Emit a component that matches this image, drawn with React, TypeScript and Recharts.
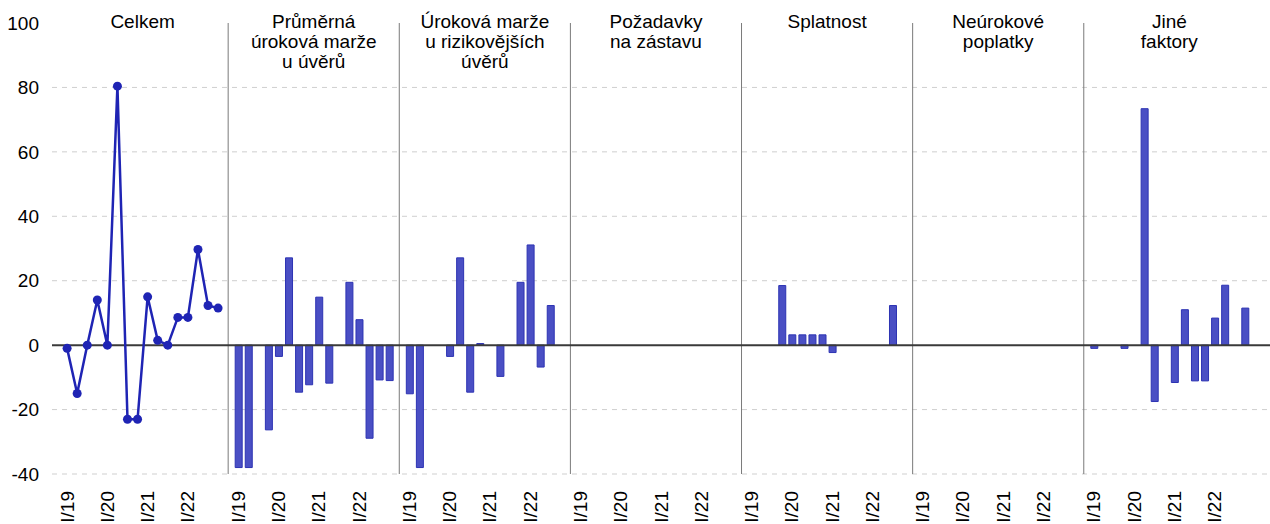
import React from "react";
import {
  ComposedChart,
  Bar,
  Line,
  XAxis,
  YAxis,
  CartesianGrid,
  ReferenceLine,
} from "recharts";

// quarters 2019Q1 - 2022Q4
const quarters = [
  "I/19", "II/19", "III/19", "IV/19",
  "I/20", "II/20", "III/20", "IV/20",
  "I/21", "II/21", "III/21", "IV/21",
  "I/22", "II/22", "III/22", "IV/22",
];
const shownQuarters = ["I/19", "I/20", "I/21", "I/22"];

const panelTitles = [
  ["Celkem"],
  ["Průměrná", "úroková marže", "u úvěrů"],
  ["Úroková marže", "u rizikovějších", "úvěrů"],
  ["Požadavky", "na zástavu"],
  ["Splatnost"],
  ["Neúrokové", "poplatky"],
  ["Jiné", "faktory"],
];

const celkem = [-1, -15, 0, 14, 0, 80.4, -23, -23, 15, 1.5, 0, 8.6, 8.6, 29.7, 12.3, 11.5];
const prumernaMarze = [-38, -38, null, -26.3, -3.5, 27.1, -14.6, -12.3, 14.9, -11.8, null, 19.5, 7.9, -28.9, -10.8, -11];
const rizikovejsiMarze = [-15.1, -38, null, null, -3.5, 27.1, -14.6, 0.5, null, -9.7, null, 19.5, 31.1, -6.8, 12.3, null];
const zastava = [null, null, null, null, null, null, null, null, null, null, null, null, null, null, null, null];
const splatnost = [null, null, null, 18.5, 3.2, 3.2, 3.2, 3.2, -2.3, null, null, null, null, null, 12.3, null];
const poplatky = [null, null, null, null, null, null, null, null, null, null, null, null, null, null, null, null];
const jineFaktory = [-1, null, null, -1, null, 73.4, -17.5, null, -11.6, 11, -11.1, -11.1, 8.4, 18.6, null, 11.5];

const barPanels = [prumernaMarze, rizikovejsiMarze, zastava, splatnost, poplatky, jineFaktory];

const yTicks = [-40, -20, 0, 20, 40, 60, 80, 100];
const gridValues = [-40, -20, 20, 40, 60, 80];

// each panel takes 17 slots: one empty slot for the divider, then 16 quarters
const SLOTS = 17;

const rows: { x: number; line?: number | null; bar?: number | null }[] = [];
quarters.forEach((_, i) => rows.push({ x: i + 1, line: celkem[i] }));
barPanels.forEach((values, p) => {
  values.forEach((v, i) => rows.push({ x: (p + 1) * SLOTS + i + 1, bar: v }));
});

const tickLabel: Record<number, string> = {};
const xTicks: number[] = [];
panelTitles.forEach((_, p) => {
  quarters.forEach((q, i) => {
    if (shownQuarters.includes(q)) {
      const x = p * SLOTS + i + 1;
      xTicks.push(x);
      tickLabel[x] = q;
    }
  });
});

const FONT = "'Liberation Sans', Arial, sans-serif";
const FONT_SIZE = 19;

function XTick({ x, y, payload }: any) {
  return (
    <text
      x={x}
      y={y}
      transform={`rotate(-90 ${x} ${y})`}
      textAnchor="end"
      dominantBaseline="central"
      fontSize={FONT_SIZE}
      fontFamily={FONT}
      fill="#000"
    >
      {tickLabel[payload.value]}
    </text>
  );
}

function titleLabel(lines: string[]) {
  return ({ viewBox }: any) => (
    <text
      x={viewBox.x}
      y={viewBox.y}
      textAnchor="middle"
      fontSize={FONT_SIZE}
      fontFamily={FONT}
      fill="#000"
    >
      {lines.map((l, i) => (
        <tspan key={i} x={viewBox.x} y={viewBox.y + 5 + i * 20}>
          {l}
        </tspan>
      ))}
    </text>
  );
}

export default function App() {
  return (
    <div style={{ position: "absolute", left: 0, top: 0, background: "#fff" }}>
      <ComposedChart
        width={1270}
        height={524}
        data={rows}
        margin={{ top: 23, right: 0, bottom: 0, left: 0 }}
      >
        <CartesianGrid
          vertical={false}
          horizontalValues={gridValues}
          stroke="#cfcfcf"
          strokeDasharray="5 5"
        />
        <XAxis
          type="number"
          dataKey="x"
          domain={[-0.5, 120.5]}
          ticks={xTicks}
          interval={0}
          axisLine={false}
          tickLine={false}
          tickMargin={11}
          height={50}
          tick={<XTick />}
        />
        <YAxis
          type="number"
          domain={[-40, 100]}
          ticks={yTicks}
          interval={0}
          width={52}
          axisLine={false}
          tickLine={false}
          tickMargin={7}
          tick={{ fontSize: FONT_SIZE, fontFamily: FONT, fill: "#000" }}
        />
        {panelTitles.slice(1).map((_, p) => (
          <ReferenceLine
            key={`sep${p}`}
            x={(p + 1) * SLOTS}
            stroke="#7a7a7a"
            strokeWidth={1}
          />
        ))}
        <Bar
          dataKey="bar"
          barSize={7}
          fill="#4a4fc4"
          stroke="#2d33b3"
          strokeWidth={1}
          isAnimationActive={false}
        />
        <ReferenceLine y={0} stroke="#3a3a3a" strokeWidth={2} />
        <Line
          dataKey="line"
          stroke="#1f24b4"
          strokeWidth={2.5}
          dot={{ r: 4.5, fill: "#1f24b4", stroke: "none" }}
          activeDot={false}
          isAnimationActive={false}
        />
        {panelTitles.map((lines, p) => (
          <ReferenceLine
            key={`title${p}`}
            x={p * SLOTS + 8.5}
            stroke="none"
            label={titleLabel(lines)}
          />
        ))}
      </ComposedChart>
    </div>
  );
}
